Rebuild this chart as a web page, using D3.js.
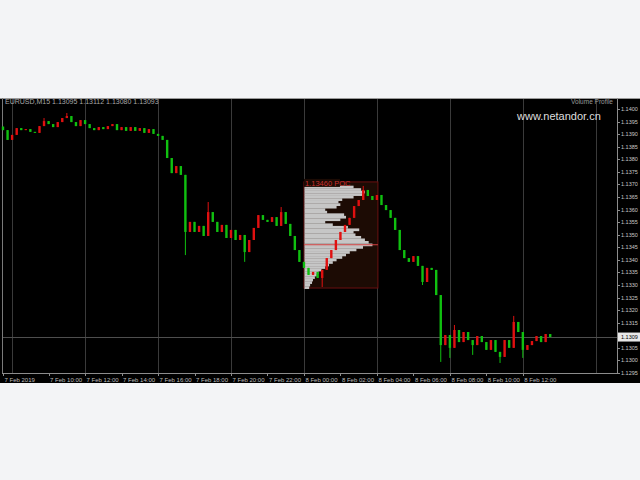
<!DOCTYPE html>
<html><head><meta charset="utf-8">
<script src="https://cdn.jsdelivr.net/npm/d3@7/dist/d3.min.js"></script>
<style>html,body{margin:0;padding:0;background:#f3f4f6;} svg{display:block}</style>
</head><body><svg id="c" width="640" height="480"></svg>
<script>
// ---------- DATA ----------
const symbol = "EURUSD,M15";
const firstOpen = 1.13930;
const closes = [
 1.13916,1.13877,1.13897,1.13924,1.13916,1.13920,1.13909,1.13905,1.13932,1.13952,
 1.13940,1.13928,1.13948,1.13964,1.13972,1.13948,1.13932,1.13956,1.13940,1.13924,
 1.13916,1.13928,1.13920,1.13932,1.13940,1.13916,1.13928,1.13913,1.13928,1.13913,
 1.13924,1.13905,1.13920,1.13901,1.13893,1.13877,1.13805,1.13745,1.13773,1.13738,
 1.13511,1.13551,1.13511,1.13535,1.13495,1.13590,1.13551,1.13511,1.13539,1.13487,
 1.13519,1.13479,1.13499,1.13431,1.13479,1.13527,1.13578,1.13559,1.13551,1.13570,
 1.13535,1.13590,1.13543,1.13495,1.13439,1.13392,1.13368,1.13340,1.13352,1.13328,
 1.13360,1.13407,1.13439,1.13479,1.13511,1.13539,1.13567,1.13614,1.13638,1.13678,
 1.13654,1.13638,1.13658,1.13618,1.13598,1.13567,1.13519,1.13439,1.13407,1.13392,
 1.13415,1.13376,1.13312,1.13368,1.13360,1.13260,1.13061,1.13101,1.13050,1.13121,
 1.13073,1.13113,1.13081,1.13061,1.13097,1.13073,1.13042,1.13081,1.13034,1.13014,
 1.13081,1.13050,1.13153,1.13113,1.13042,1.13061,1.13077,1.13097,1.13073,1.13105,
 1.13093
];
const lowWicks  = {40:1.13419, 53:1.13392, 70:1.13292, 92:1.13300, 96:1.12994, 98:1.13010, 103:1.13022, 109:1.12990, 114:1.13010};
const highWicks = {9:1.13964, 14:1.13984, 45:1.13630, 61:1.13610, 79:1.13694, 99:1.13141, 112:1.13177};

const priceTicks = [1.14000,1.13950,1.13900,1.13850,1.13800,1.13750,1.13700,1.13650,1.13600,1.13550,
                    1.13500,1.13450,1.13400,1.13350,1.13300,1.13250,1.13200,1.13150,1.13100,1.13050,1.13000,1.12950];
const lastPrice = 1.13093;

// volume profile (bars 66..82)
const profileStartBar = 66, profileEndBar = 82;
const profileHigh = 1.13710, profileLow = 1.13288;
const profileLevels = [1.13690,1.13680,1.13670,1.13660,1.13650,1.13640,1.13630,1.13620,1.13610,1.13600,
  1.13590,1.13580,1.13570,1.13560,1.13550,1.13540,1.13530,1.13520,1.13510,1.13500,
  1.13490,1.13480,1.13470,1.13460,1.13450,1.13440,1.13430,1.13420,1.13410,1.13400,
  1.13390,1.13380,1.13370,1.13360,1.13350,1.13340,1.13330,1.13320,1.13310,1.13300,1.13290];
const profileVolumes = [520,600,640,610,520,400,360,380,340,220,
  240,420,440,380,220,300,460,580,520,540,
  600,640,680,720,620,550,480,440,400,340,
  300,260,220,180,150,130,110,90,80,60,50];
const pocLabel = "1.13460 POC";
const watermark = "www.netandor.cn";

// ---------- CHART ----------
const svg = d3.select("#c");
const W = 640;
const chartTop = 98, plotBottom = 373, chartBottom = 383, axisX = 617;
const upColor = "#e01010", downColor = "#10c010";

const start = new Date(Date.UTC(2019,1,7,7,30));
const barMs = 15*60*1000;
const times = closes.map((_, i) => new Date(start.getTime() + i*barMs));
const x = d3.scaleUtc().domain([start, new Date(start.getTime() + 130*barMs)]).range([3, 595.8]);
const y = d3.scaleLinear().domain([1.1295, 1.1400]).range([373, 109]);

svg.append("rect").attr("width", W).attr("height", 480).attr("fill", "#f3f4f6");
svg.append("rect").attr("x", 0).attr("y", chartTop).attr("width", W).attr("height", chartBottom - chartTop).attr("fill", "#000");

// frame
svg.append("line").attr("x1",0).attr("x2",W).attr("y1",chartTop+0.5).attr("y2",chartTop+0.5).attr("stroke","#9a9a9a");
svg.append("line").attr("x1",2.5).attr("x2",2.5).attr("y1",chartTop).attr("y2",plotBottom).attr("stroke","#7a7a7a");
svg.append("line").attr("x1",axisX+0.5).attr("x2",axisX+0.5).attr("y1",chartTop).attr("y2",plotBottom).attr("stroke","#8c8c8c");
svg.append("line").attr("x1",2).attr("x2",axisX).attr("y1",plotBottom+0.5).attr("y2",plotBottom+0.5).attr("stroke","#8c8c8c");

// vertical grid every 4 hours
const grid = d3.utcHour.every(4).range(start, new Date(start.getTime() + 130*barMs + 60000));
svg.append("g").selectAll("line").data(grid).join("line")
  .attr("x1", d => Math.round(x(d)) + 0.5).attr("x2", d => Math.round(x(d)) + 0.5)
  .attr("y1", chartTop + 1).attr("y2", plotBottom)
  .attr("stroke", "#3a3a3a");

// current price line
svg.append("line").attr("x1",3).attr("x2",axisX).attr("y1",Math.round(y(lastPrice))+0.5).attr("y2",Math.round(y(lastPrice))+0.5)
  .attr("stroke","#4e4e4e");

// volume profile
const bx0 = x(times[profileStartBar]), bx1 = x(times[profileEndBar]) + 1;
const vp = svg.append("g");
vp.append("rect").attr("x", bx0).attr("y", y(profileHigh)).attr("width", bx1 - bx0)
  .attr("height", y(profileLow) - y(profileHigh)).attr("fill", "#1c0b04").attr("stroke", "#6a1010");
const vol = d3.scaleLinear().domain([0, 720]).range([0, 68]);
vp.selectAll("rect.row").data(profileLevels).join("rect").attr("class","row")
  .attr("x", bx0 + 0.5)
  .attr("y", d => y(d + 0.00005))
  .attr("width", (d, i) => vol(profileVolumes[i]))
  .attr("height", d => y(d - 0.00005) - y(d + 0.00005) + 0.2)
  .attr("fill", "#c6c6c6");
const pocIdx = d3.maxIndex(profileVolumes);
vp.append("line").attr("x1", bx0).attr("x2", bx1)
  .attr("y1", y(profileLevels[pocIdx])).attr("y2", y(profileLevels[pocIdx]))
  .attr("stroke", "#d04040").attr("stroke-width", 1.2);
vp.append("rect").attr("x", bx0).attr("y", y(profileHigh) - 3).attr("width", 36).attr("height", 8).attr("fill", "#1c0b04");
vp.append("text").attr("x", bx0 + 1).attr("y", y(profileHigh) + 4)
  .attr("font-family", "Liberation Sans, Arial, sans-serif").attr("font-size", 7.5)
  .attr("fill", "#c83030").text(pocLabel);

// candles
const candles = closes.map((c, i) => {
  const o = i === 0 ? firstOpen : closes[i-1];
  const h = highWicks[i] !== undefined ? highWicks[i] : Math.max(o, c);
  const l = lowWicks[i] !== undefined ? lowWicks[i] : Math.min(o, c);
  return {t: times[i], o, c, h, l, up: c >= o};
});
const cg = svg.append("g");
cg.selectAll("line").data(candles).join("line")
  .attr("x1", d => x(d.t)).attr("x2", d => x(d.t))
  .attr("y1", d => y(d.h)).attr("y2", d => y(d.l))
  .attr("stroke", d => d.up ? upColor : downColor).attr("stroke-width", 1);
cg.selectAll("rect").data(candles).join("rect")
  .attr("x", d => x(d.t) - 1.2).attr("width", 2.4)
  .attr("y", d => y(Math.max(d.o, d.c)))
  .attr("height", d => Math.max(1, Math.abs(y(d.o) - y(d.c))))
  .attr("fill", d => d.up ? upColor : downColor);

// price axis
const font = "Liberation Sans, Arial, sans-serif";
const pa = svg.append("g");
const shownTicks = priceTicks.filter(d => Math.abs(y(d) - y(lastPrice)) > 7);
pa.selectAll("line").data(priceTicks).join("line")
  .attr("x1", axisX).attr("x2", axisX + 3)
  .attr("y1", d => Math.round(y(d)) + 0.5).attr("y2", d => Math.round(y(d)) + 0.5)
  .attr("stroke", "#8c8c8c");
pa.selectAll("text").data(shownTicks).join("text")
  .attr("x", axisX + 4).attr("y", d => y(d) + 2)
  .attr("font-family", font).attr("font-size", 5.5).attr("fill", "#c8c8c8")
  .text(d => d.toFixed(4));
pa.append("rect").attr("x", axisX + 1).attr("y", y(lastPrice) - 4.5).attr("width", W - axisX - 1).attr("height", 9).attr("fill", "#e8e8e8");
pa.append("text").attr("x", axisX + 4).attr("y", y(lastPrice) + 2)
  .attr("font-family", font).attr("font-size", 5.5).attr("fill", "#000").text(lastPrice.toFixed(4));

// time axis
const fmt = d3.utcFormat("%-d %b %H:%M");
const tLabels = [{t: start, s: d3.utcFormat("%-d %b %Y")(start)}]
  .concat(d3.utcHour.every(2).range(d3.utcHour.offset(start, 2), times[times.length-1]).map(t => ({t, s: fmt(t)})));
const ta = svg.append("g");
ta.selectAll("line").data(tLabels).join("line")
  .attr("x1", d => Math.round(x(d.t)) + 0.5).attr("x2", d => Math.round(x(d.t)) + 0.5)
  .attr("y1", plotBottom).attr("y2", plotBottom + 3).attr("stroke", "#8c8c8c");
ta.selectAll("text").data(tLabels).join("text")
  .attr("x", d => x(d.t) + 1.5).attr("y", plotBottom + 8.5)
  .attr("font-family", font).attr("font-size", 6).attr("fill", "#bcbcbc").text(d => d.s);

// header texts
const last = candles[candles.length-1];
svg.append("text").attr("x", 5).attr("y", chartTop + 6)
  .attr("font-family", font).attr("font-size", 7).attr("fill", "#a8a8a8")
  .text(`${symbol}  1.13095 1.13112 1.13080 ${last.c.toFixed(5)}`);
svg.append("text").attr("x", 613).attr("y", chartTop + 6).attr("text-anchor", "end")
  .attr("font-family", font).attr("font-size", 6.5).attr("fill", "#9a9a9a").text("Volume Profile");
svg.append("text").attr("x", 517).attr("y", 120)
  .attr("font-family", font).attr("font-size", 11).attr("fill", "#dedede").text(watermark);
</script></body></html>
